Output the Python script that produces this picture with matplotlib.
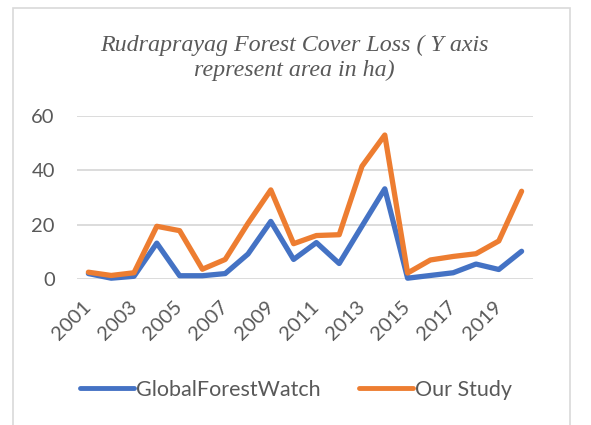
import matplotlib
matplotlib.use("Agg")
import matplotlib.pyplot as plt
from matplotlib.patches import Rectangle

years = list(range(2001, 2021))
gfw = [2, 0.3, 1, 13.2, 1.2, 1.2, 2, 9.2, 21.2, 7.2, 13.4, 5.7, 19.5, 33.2, 0.3, 1.3, 2.3, 5.5, 3.5, 10.2]
our_study = [2.5, 1.3, 2.3, 19.4, 17.8, 3.6, 7.2, 20.5, 32.8, 13, 16, 16.3, 41.5, 53, 2.2, 7, 8.3, 9.3, 14, 32.3]
tick_years = list(range(2001, 2020, 2))
yticks = [0, 20, 40, 60]

txt = "#595959"
blue = "#4472C4"
orange = "#ED7D31"

plt.rcParams["font.family"] = ["Lato", "DejaVu Sans"]

fig = plt.figure(figsize=(5.91, 4.25), dpi=100)
W, H = 591, 425

# chart border
fig.patches.append(Rectangle((13 / W, -0.1), (570 - 13) / W, (1.1 - 8 / H),
                             transform=fig.transFigure, fill=False,
                             edgecolor="#D9D9D9", lw=1.2))

ax = fig.add_axes([77 / W, 1 - 279 / H, (533 - 77) / W, (279 - 116) / H])

ax.plot(years, gfw, color=blue, lw=3.8, solid_joinstyle="round",
        solid_capstyle="round", clip_on=False, label="GlobalForestWatch", zorder=3)
ax.plot(years, our_study, color=orange, lw=3.8, solid_joinstyle="round",
        solid_capstyle="round", clip_on=False, label="Our Study", zorder=3)

ax.set_xlim(2000.5, 2020.5)
ax.set_ylim(0, 60)
ax.set_yticks(yticks)
ax.yaxis.grid(True, color="#D9D9D9", lw=1.3)
ax.set_axisbelow(True)
for s in ax.spines.values():
    s.set_visible(False)

ax.tick_params(axis="y", length=0, pad=16, labelsize=14.5, labelcolor=txt)
ax.set_xticks(tick_years)
ax.set_xticklabels([str(y) for y in tick_years], rotation=45, ha="right",
                   va="center", rotation_mode="anchor")
ax.tick_params(axis="x", length=0, pad=18, labelsize=14.5, labelcolor=txt)

fig.text(294 / W, 1 - 58 / H, "Rudraprayag Forest Cover Loss ( Y axis\nrepresent area in ha)",
         ha="center", va="center", family="Liberation Serif", style="italic",
         fontsize=17.3, color=txt, linespacing=1.28)

leg = fig.legend(loc="center", bbox_to_anchor=(296 / W, 1 - 390 / H), ncol=2,
                 frameon=False, fontsize=15.5, labelcolor=txt, handlelength=2.5,
                 handletextpad=0.1, columnspacing=1.8)
for line in leg.get_lines():
    line.set_linewidth(3.5)
    line.set_solid_capstyle("round")

fig.savefig("out.png", dpi=100)
